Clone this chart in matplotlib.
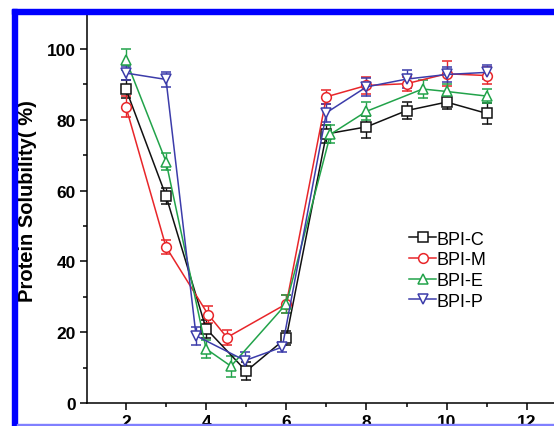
import matplotlib.pyplot as plt
from matplotlib.patches import Rectangle
from matplotlib.lines import Line2D
from matplotlib.ticker import MultipleLocator

plt.rcParams['font.family'] = ['Liberation Sans', 'DejaVu Sans']

# --- dati ---
ph_c = [2, 3, 4, 5, 6, 7, 8, 9, 10, 11]
sol_c = [88.7, 58.5, 21.0, 9.0, 18.4, 76.0, 78.0, 82.6, 85.0, 81.8]
err_c = [2.5, 2.2, 2.5, 2.5, 2.0, 2.5, 3.0, 2.3, 2.0, 3.0]

ph_m = [2, 3, 4.05, 4.52, 6, 7, 8, 9, 10, 11]
sol_m = [83.7, 44.1, 25.0, 18.5, 28.0, 86.5, 89.7, 90.2, 93.0, 92.5]
err_m = [3.0, 2.0, 2.5, 2.0, 2.5, 2.0, 2.5, 2.0, 3.5, 2.5]

ph_e = [2, 3, 4, 4.62, 6, 7.1, 8, 9.4, 10, 11]
sol_e = [97.0, 68.2, 15.3, 10.4, 28.0, 75.9, 82.4, 88.7, 88.0, 86.7]
err_e = [3.0, 2.5, 2.5, 3.0, 2.5, 2.5, 2.5, 2.5, 2.0, 2.0]

ph_p = [2, 3, 3.75, 4.97, 5.9, 7, 8, 9, 10, 11]
sol_p = [93.2, 91.4, 19.0, 12.0, 15.8, 82.0, 89.3, 91.5, 92.8, 93.4]
err_p = [2.0, 2.0, 2.5, 2.5, 1.5, 2.5, 2.5, 2.5, 2.0, 2.0]

series = [
    ("BPI-C", ph_c, sol_c, err_c, "#111111", "s"),
    ("BPI-M", ph_m, sol_m, err_m, "#e8262a", "o"),
    ("BPI-E", ph_e, sol_e, err_e, "#22a34a", "^"),
    ("BPI-P", ph_p, sol_p, err_p, "#3c3caa", "v"),
]

fig = plt.figure(figsize=(5.54, 4.27), dpi=100)
ax = fig.add_axes([87 / 554, 23 / 427, 480 / 554, 389.4 / 427])

handles = []
for name, x, y, e, col, mk in series:
    style = dict(color=col, marker=mk, markersize=7, markerfacecolor="white",
                 markeredgecolor=col, markeredgewidth=1.1, linewidth=1.1)
    ax.errorbar(x, y, yerr=e, capsize=3.5, elinewidth=1.0, capthick=1.0, **style)
    handles.append(Line2D([], [], label=name, **style))

ax.set_xlim(1.03, 13)
ax.set_ylim(0, 110)
ax.set_xticks([2, 4, 6, 8, 10, 12])
ax.set_yticks([0, 20, 40, 60, 80, 100])
ax.xaxis.set_minor_locator(MultipleLocator(1))
ax.yaxis.set_minor_locator(MultipleLocator(10))
ax.tick_params(which="major", direction="out", length=5, width=1.1,
               labelsize=12.5, pad=3)
ax.tick_params(which="minor", direction="out", length=3, width=1.1)
for lab in ax.get_xticklabels() + ax.get_yticklabels():
    lab.set_fontweight("bold")
for s in ("top", "right"):
    ax.spines[s].set_visible(False)
for s in ("left", "bottom"):
    ax.spines[s].set_linewidth(1.1)

ax.set_ylabel("Protein Solubility( %)", fontsize=14.5, fontweight="bold")
ax.yaxis.set_label_coords(-0.104, 0.52)

ax.legend(handles=handles, loc="upper left", bbox_to_anchor=(0.645, 0.475),
          frameon=False, fontsize=13, handlelength=1.5, handletextpad=0.0,
          labelspacing=0.2, borderpad=0.2)

# cornice blu dello screenshot
fig.patches.append(Rectangle((12 / 554, 1 - 15 / 427), 1, 5 / 427,
                             transform=fig.transFigure, color="#0000ff", zorder=10))
fig.patches.append(Rectangle((12 / 554, 0), 5 / 554, 1 - 10 / 427,
                             transform=fig.transFigure, color="#0000ff", zorder=10))
fig.patches.append(Rectangle((17 / 554, 0), 1, 2.5 / 427,
                             transform=fig.transFigure, color="#8080ff", zorder=10))

fig.savefig("out.png", dpi=100)
